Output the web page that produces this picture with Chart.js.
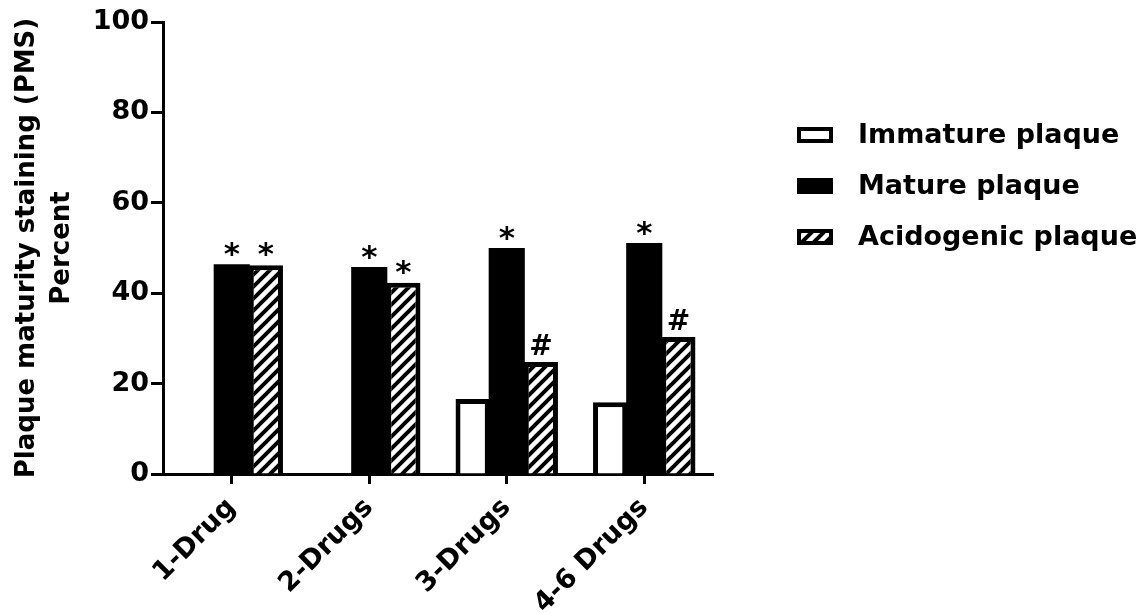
<!DOCTYPE html>
<html>
  <head>
    <meta charset="UTF-8">
    <title>Plaque maturity staining</title>
    <script src="https://cdn.jsdelivr.net/npm/chart.js"></script>
    <style>
      html, body { margin: 0; padding: 0; background: #fff; }
    </style>
  </head>
  <body>
    <canvas id="pmsChart" width="1147" height="613"></canvas>

    <script>
      // values
      const groups = ['1-Drug', '2-Drugs', '3-Drugs', '4-6 Drugs'];
      const immature = [0, 0, 16.6, 15.9];
      const mature = [46.2, 45.6, 49.8, 50.9];
      const acidogenic = [46.2, 42.3, 24.8, 30.3];
      const matureMarks = ['*', '*', '*', '*'];
      const acidMarks = ['*', '*', '#', '#'];
      const yTicks = [0, 20, 40, 60, 80, 100];

      const FONT = '"DejaVu Sans", Verdana, sans-serif';
      const canvas = document.getElementById('pmsChart');
      const ctx = canvas.getContext('2d');

      // diagonal "/" hatching
      function makeHatch() {
        const tile = document.createElement('canvas');
        tile.width = 12; tile.height = 12;
        const g = tile.getContext('2d');
        g.fillStyle = '#fff';
        g.fillRect(0, 0, 12, 12);
        g.strokeStyle = '#000';
        g.lineWidth = 4;
        g.beginPath();
        g.moveTo(-3, 15); g.lineTo(15, -3);
        g.moveTo(-3, 3); g.lineTo(3, -3);
        g.moveTo(9, 15); g.lineTo(15, 9);
        g.stroke();
        return ctx.createPattern(tile, 'repeat');
      }
      const hatch = makeHatch();

      // * and # above bars
      const marksPlugin = {
        id: 'marks',
        afterDatasetsDraw(chart) {
          const c = chart.ctx;
          [[1, matureMarks], [2, acidMarks]].forEach(([di, marks]) => {
            chart.getDatasetMeta(di).data.forEach((bar, i) => {
              const m = marks[i];
              if (!m) return;
              c.save();
              c.fillStyle = '#000';
              c.textAlign = 'center';
              c.textBaseline = 'alphabetic';
              if (m === '*') {
                c.font = 'bold 31px ' + FONT;
                c.fillText(m, bar.x, bar.y - 1);
              } else {
                c.font = 'bold 28px ' + FONT;
                c.fillText(m, bar.x, bar.y - 7);
              }
              c.restore();
            });
          });
        }
      };

      // legend on the right
      const legendPlugin = {
        id: 'sideLegend',
        afterDraw(chart) {
          const c = chart.ctx;
          const x0 = chart.chartArea.right + 84;
          chart.data.datasets.forEach((ds, i) => {
            const cy = 135 + i * 51;
            c.save();
            c.fillStyle = ds.backgroundColor;
            c.fillRect(x0, cy - 8, 36, 16);
            if (ds.borderWidth) {
              c.lineWidth = 4;
              c.strokeStyle = '#000';
              c.strokeRect(x0 + 2, cy - 6, 32, 12);
            }
            c.fillStyle = '#000';
            c.font = 'bold 27px ' + FONT;
            c.textBaseline = 'middle';
            c.fillText(ds.label, x0 + 61, cy + 1);
            c.restore();
          });
        }
      };

      const barShape = { categoryPercentage: 0.745, barPercentage: 1.0 };

      new Chart(ctx, {
        type: 'bar',
        data: {
          labels: groups,
          datasets: [
            Object.assign({
              label: 'Immature plaque',
              data: immature,
              backgroundColor: '#fff',
              borderColor: '#000',
              borderWidth: 5,
              borderSkipped: 'bottom',
              inflateAmount: 0
            }, barShape),
            Object.assign({
              label: 'Mature plaque',
              data: mature,
              backgroundColor: '#000',
              borderColor: '#000',
              borderWidth: 0,
              inflateAmount: 1   // covers the anti-aliased seam between touching bars
            }, barShape),
            Object.assign({
              label: 'Acidogenic plaque',
              data: acidogenic,
              backgroundColor: hatch,
              borderColor: '#000',
              borderWidth: 5,
              borderSkipped: 'bottom',
              inflateAmount: 0
            }, barShape)
          ]
        },
        options: {
          responsive: false,
          animation: false,
          devicePixelRatio: 1,
          layout: { padding: { left: 6, top: 22, right: 434, bottom: 0 } },
          plugins: {
            legend: { display: false },
            tooltip: { enabled: false }
          },
          scales: {
            x: {
              border: { display: true, color: '#000', width: 3 },
              grid: {
                offset: false,
                drawOnChartArea: false,
                tickLength: 10,
                tickWidth: 3,
                tickColor: '#000'
              },
              ticks: {
                color: '#000',
                font: { family: FONT, size: 27, weight: 'bold' },
                minRotation: 45,
                maxRotation: 45,
                padding: 8
              },
              afterFit: s => { s.height = 139; }
            },
            y: {
              min: 0,
              max: 100,
              afterBuildTicks: s => { s.ticks = yTicks.map(v => ({ value: v })); },
              border: { display: true, color: '#000', width: 3 },
              grid: {
                drawOnChartArea: false,
                tickLength: 12,
                tickWidth: 3,
                tickColor: '#000'
              },
              ticks: {
                color: '#000',
                font: { family: FONT, size: 27, weight: 'bold' },
                padding: 2
              },
              title: {
                display: true,
                text: ['Plaque maturity staining (PMS)', 'Percent'],
                color: '#000',
                font: { family: FONT, size: 26, weight: 'bold', lineHeight: 1.35 },
                padding: { top: 4, bottom: 0 }
              },
              afterFit: s => { s.width = 157; }
            }
          }
        },
        plugins: [marksPlugin, legendPlugin]
      });
    </script>
  </body>
</html>
